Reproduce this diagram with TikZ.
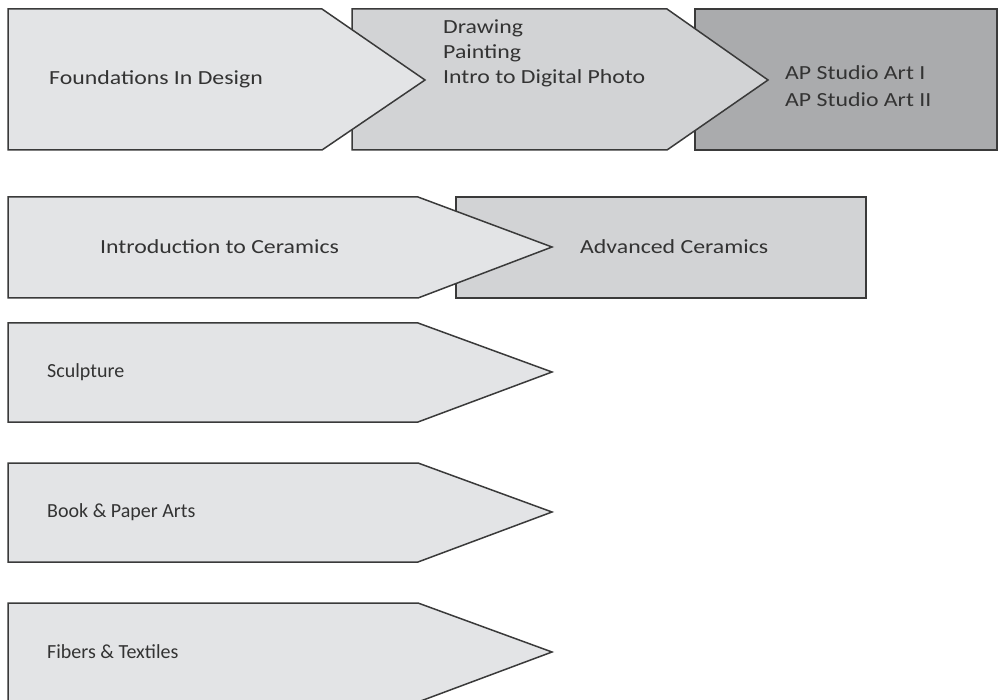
\documentclass[tikz,border=0pt]{standalone}
\usepackage{fontspec}
\setmainfont{Carlito}
\newfontfamily\widefont{Carlito}[FakeStretch=1.19]
\definecolor{palegrey}{HTML}{E3E4E6}
\definecolor{midgrey}{HTML}{D2D3D5}
\definecolor{darkgrey}{HTML}{AAABAD}
\definecolor{edgegrey}{HTML}{3A3A3A}
\definecolor{textgrey}{HTML}{333333}
\begin{document}
\begin{tikzpicture}[x=1pt,y=-1pt,
  tile/.style={draw=edgegrey, line width=1.5pt, line join=miter},
  course/.style={anchor=west, inner sep=0pt, text=textgrey, align=left, font=\widefont\fontsize{20}{25}\selectfont}]
\useasboundingbox (0,0) rectangle (998,700);
% top row
\draw[tile, fill=darkgrey] (695,9) rectangle (997,150);
\draw[tile, fill=midgrey] (352,9) -- (667,9) -- (768,80) -- (667,150) -- (352,150) -- cycle;
\draw[tile, fill=palegrey] (8,9) -- (322,9) -- (425,80) -- (322,150) -- (8,150) -- cycle;
\node[course] (found) at (49,79) {Foundations In Design};
\node[course] (twod) at (443,53) {Drawing\\Painting\\Intro to Digital Photo};
\node[course, font=\widefont\fontsize{20}{27}\selectfont] (apart) at (785,86) {AP Studio Art I\\AP Studio Art II};
% ceramics
\draw[tile, fill=midgrey] (456,197) rectangle (866,298);
\draw[tile, fill=palegrey] (8,197) -- (418,197) -- (552,247) -- (418,298) -- (8,298) -- cycle;
\node[course] (introcer) at (100,247) {Introduction to Ceramics};
\node[course] (advcer) at (580,247) {Advanced Ceramics};
% single courses
\foreach \y/\name/\txt in {323/sculpt/Sculpture, 463/book/Book \& Paper Arts, 603/fibre/Fibers \& Textiles}{
  \draw[tile, fill=palegrey] (8,\y) -- (418,\y) -- (552,\y+49) -- (418,\y+99) -- (8,\y+99) -- cycle;
  \node[course, font=\fontsize{20}{25}\selectfont] (\name) at (47,\y+49) {\txt};
}
\end{tikzpicture}
\end{document}
